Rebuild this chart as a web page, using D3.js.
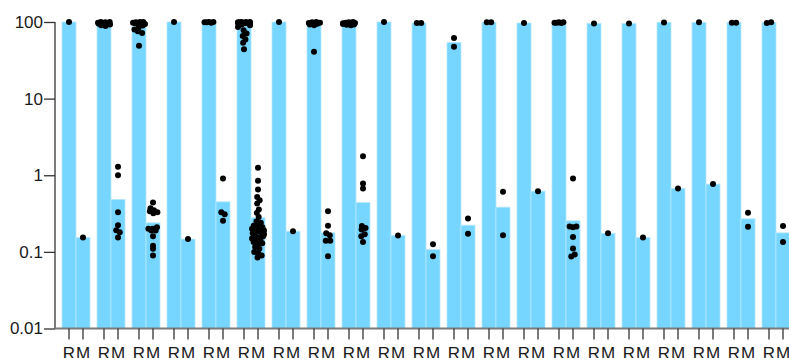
<!DOCTYPE html>
<html>
<head>
<meta charset="utf-8">
<script src="https://cdn.jsdelivr.net/npm/d3@7"></script>
<style>
  html, body { margin: 0; padding: 0; background: #fff; overflow: hidden; }
  text { font-family: "Liberation Sans", Arial, Helvetica, sans-serif; }
</style>
</head>
<body>
<svg id="chart" width="789" height="358"></svg>
<script>
const groups = d3.range(21);
const subgroups = ["R", "M"];
const yTicks = [0.01, 0.1, 1, 10, 100];

// bar heights
const rBars = [100, 96, 87, 100, 99, 88, 100, 90, 95.5, 100, 97, 54, 99, 97, 98, 95.5, 95.5, 98.5, 99, 98, 98];
const mBars = [0.154, 0.483, 0.239, 0.147, 0.45, 0.278, 0.186, 0.177, 0.44, 0.164, 0.107, 0.223, 0.383, 0.62, 0.254, 0.175, 0.154, 0.673, 0.766, 0.27, 0.177];

// individual points
const rDots = [
  [100],
  [100, 100, 99, 98, 97, 96, 95, 93, 91, 89],
  [100, 100, 99, 98, 97, 96, 94, 90, 85, 80, 76, 72, 49],
  [100],
  [100, 100, 99, 99, 98],
  [100, 100, 100, 99, 99, 98, 98, 97, 96, 95, 93, 91, 86, 78, 71, 65.5, 59, 53.5, 44],
  [100],
  [100, 99, 98, 97, 96, 95, 93, 91, 40.8],
  [100, 99, 98, 97, 96, 95, 94, 93, 92, 91],
  [100],
  [97, 97],
  [61.6, 47.5],
  [99, 99],
  [97],
  [99, 99, 98, 98, 97],
  [95.5],
  [95.5],
  [98.5],
  [99],
  [98, 98],
  [97, 99]
];
const mDots = [
  [0.154],
  [1.29, 1.0, 0.33, 0.223, 0.192, 0.181, 0.154],
  [0.44, 0.37, 0.35, 0.34, 0.33, 0.32, 0.21, 0.2, 0.2, 0.19, 0.19, 0.16, 0.12, 0.11, 0.09],
  [0.147],
  [0.91, 0.33, 0.31, 0.255],
  [1.25, 0.845, 0.653, 0.522, 0.473, 0.428, 0.357, 0.323, 0.286, 0.25, 0.24, 0.23, 0.22, 0.21, 0.205, 0.2, 0.195, 0.19, 0.185, 0.18, 0.175, 0.17, 0.165, 0.16, 0.155, 0.15, 0.145, 0.14, 0.135, 0.13, 0.125, 0.116, 0.11, 0.1, 0.095, 0.09, 0.0845],
  [0.186],
  [0.34, 0.22, 0.175, 0.165, 0.14, 0.14, 0.088],
  [1.77, 0.78, 0.67, 0.217, 0.205, 0.196, 0.17, 0.16, 0.135],
  [0.164],
  [0.126, 0.088],
  [0.273, 0.172],
  [0.607, 0.165],
  [0.62],
  [0.908, 0.215, 0.21, 0.215, 0.156, 0.111, 0.0925, 0.087],
  [0.175],
  [0.154],
  [0.673],
  [0.766],
  [0.323, 0.212],
  [0.218, 0.135]
];

const width = 789;
const height = 358;
const margin = { top: 22, right: 0, bottom: 29.5, left: 55 };

const svg = d3.select("#chart");

const x0 = d3.scaleBand()
  .domain(groups)
  .range([margin.left, 797])
  .paddingInner(0.2)
  .paddingOuter(0.2);

const x1 = d3.scaleBand()
  .domain(subgroups)
  .range([0, x0.bandwidth()]);

const y = d3.scaleLog()
  .domain([0.01, 100])
  .range([height - margin.bottom, margin.top]);

const barColor = "#76d6ff";

const barData = groups.flatMap(g => [
  { g, key: "R", value: rBars[g] },
  { g, key: "M", value: mBars[g] }
]);

svg.append("g")
  .selectAll("rect")
  .data(barData)
  .join("rect")
  .attr("x", d => x0(d.g) + x1(d.key))
  .attr("y", d => y(d.value))
  .attr("width", x1.bandwidth())
  .attr("height", d => y(0.01) - y(d.value))
  .attr("fill", barColor)
  .attr("stroke", "#b4e8ff")
  .attr("stroke-width", 0.8);

// beeswarm-ish placement of the points around each bar center
const dotR = 3;
const dots = [];
groups.forEach(g => {
  [["R", rDots[g]], ["M", mDots[g]]].forEach(([key, vals]) => {
    const cx = x0(g) + x1(key) + x1.bandwidth() / 2;
    const nodes = vals.map(v => ({ v, cx, x: cx, y: y(v) }));
    const sim = d3.forceSimulation(nodes)
      .force("x", d3.forceX(cx).strength(0.25))
      .force("y", d3.forceY(d => y(d.v)).strength(1))
      .force("collide", d3.forceCollide(2.2))
      .stop();
    for (let i = 0; i < 120; i++) sim.tick();
    nodes.forEach(n => {
      n.x = Math.max(cx - 6, Math.min(cx + 6, n.x));
      dots.push(n);
    });
  });
});

svg.append("g")
  .selectAll("circle")
  .data(dots)
  .join("circle")
  .attr("cx", d => d.x)
  .attr("cy", d => y(d.v))
  .attr("r", dotR)
  .attr("fill", "#000");

// y axis
const yAxis = svg.append("g")
  .attr("transform", `translate(${margin.left},0)`)
  .call(d3.axisLeft(y).tickValues(yTicks).tickFormat(d => String(d)).tickSize(11).tickPadding(1));
yAxis.select(".domain")
  .attr("d", `M0,${y(100)}V${y(0.01)}`)
  .attr("stroke", "#7a7a7a")
  .attr("stroke-width", 2);
yAxis.selectAll(".tick line").attr("stroke", "#333").attr("stroke-width", 1.3);
yAxis.selectAll(".tick text")
  .attr("font-size", 17)
  .attr("fill", "#1a1a1a");

// x axis: one small axis per group, labels R and M
const xBase = y(0.01);
svg.append("line")
  .attr("x1", margin.left)
  .attr("x2", width)
  .attr("y1", xBase)
  .attr("y2", xBase)
  .attr("stroke", "#7a7a7a")
  .attr("stroke-width", 2);

groups.forEach(g => {
  const ax = svg.append("g")
    .attr("transform", `translate(${x0(g)},${xBase})`)
    .call(d3.axisBottom(x1).tickSize(11).tickPadding(7));
  ax.select(".domain").remove();
  ax.selectAll(".tick line").attr("stroke", "#333").attr("stroke-width", 1.3);
  ax.selectAll(".tick text")
    .attr("font-size", 17)
    .attr("fill", "#1a1a1a");
});
</script>
</body>
</html>
